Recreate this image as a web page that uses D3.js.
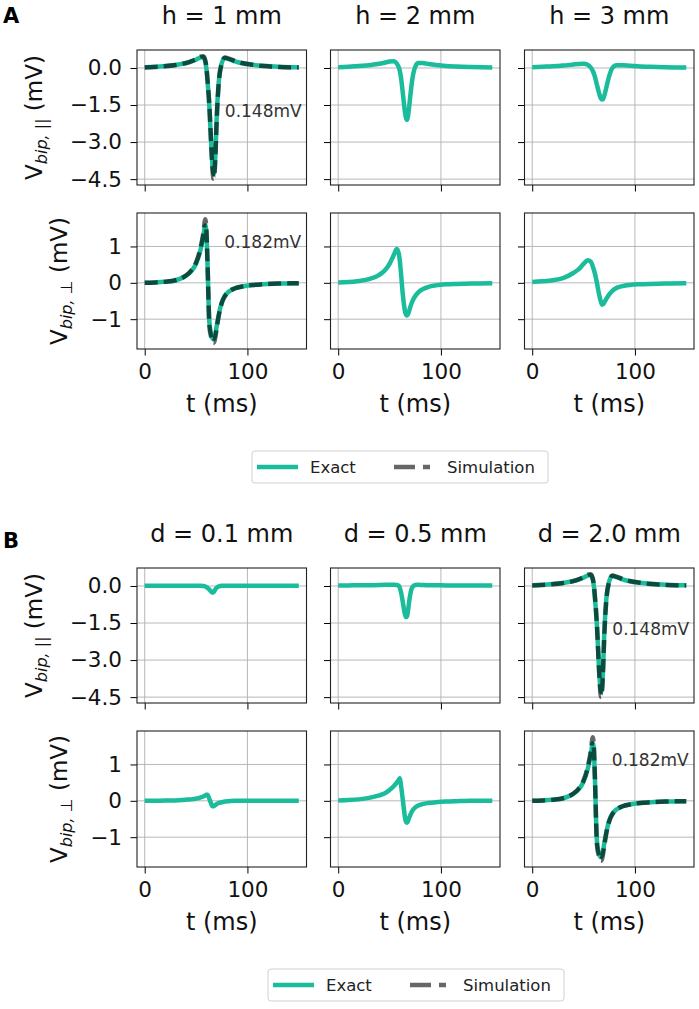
<!DOCTYPE html>
<html>
<head>
<meta charset="utf-8">
<script src="https://cdn.jsdelivr.net/npm/d3@7"></script>
<style>
  body { margin: 0; background: #fff; }
  svg { display: block; font-family: "DejaVu Sans", sans-serif; }
</style>
</head>
<body>
<svg id="chart" width="699" height="1009"></svg>
<script>
// sample times (ms), denser around the spike
const time = [0, 10, 20, 30, 40, 45, 50, 54, 57, 59, 60, 61, 63, 65, 66, 67, 68, 69, 70, 72, 75, 78, 82, 88, 95, 105, 115, 130, 150]

// A : electrode height h (d = 2.0 mm)
const a1ParExact = [0.03, 0.05, 0.08, 0.12, 0.2, 0.26, 0.34, 0.42, 0.44, 0.25, 0.0, -0.45, -1.6, -3.3, -3.95, -4.3, -4.1, -3.3, -2.1, -0.6, 0.2, 0.4, 0.36, 0.27, 0.19, 0.13, 0.09, 0.05, 0.03]
const a1ParSim = [0.02, 0.04, 0.07, 0.12, 0.2, 0.27, 0.36, 0.46, 0.48, 0.3, 0.05, -0.4, -1.55, -3.35, -4.1, -4.49, -4.25, -3.4, -2.2, -0.65, 0.18, 0.42, 0.38, 0.28, 0.2, 0.13, 0.08, 0.04, 0.02]
const a2ParExact = [0.03, 0.05, 0.08, 0.11, 0.17, 0.21, 0.26, 0.27, 0.18, 0.02, -0.12, -0.35, -1.05, -1.8, -2.02, -2.1, -1.95, -1.6, -1.2, -0.5, 0.05, 0.2, 0.2, 0.16, 0.12, 0.08, 0.06, 0.04, 0.02]
const a3ParExact = [0.03, 0.05, 0.07, 0.1, 0.14, 0.16, 0.17, 0.13, 0.02, -0.12, -0.22, -0.35, -0.68, -1.0, -1.14, -1.24, -1.28, -1.25, -1.15, -0.82, -0.32, 0.0, 0.11, 0.11, 0.09, 0.06, 0.05, 0.03, 0.02]
const a1PerpExact = [0.0, 0.01, 0.03, 0.07, 0.19, 0.31, 0.53, 0.87, 1.27, 1.58, 1.4, 0.65, -1.1, -1.45, -1.53, -1.55, -1.5, -1.38, -1.2, -0.88, -0.54, -0.36, -0.24, -0.15, -0.1, -0.06, -0.04, -0.02, -0.01]
const a1PerpSim = [0.0, 0.01, 0.03, 0.07, 0.2, 0.33, 0.56, 0.92, 1.35, 1.75, 1.5, 0.7, -1.2, -1.52, -1.6, -1.65, -1.6, -1.45, -1.27, -0.92, -0.56, -0.37, -0.24, -0.15, -0.1, -0.06, -0.04, -0.02, -0.01]
const a2PerpExact = [0.01, 0.02, 0.05, 0.1, 0.22, 0.33, 0.52, 0.76, 0.93, 0.8, 0.6, 0.3, -0.35, -0.78, -0.87, -0.9, -0.86, -0.78, -0.68, -0.52, -0.36, -0.26, -0.18, -0.11, -0.07, -0.04, -0.03, -0.02, -0.01]
const a3PerpExact = [0.02, 0.04, 0.07, 0.13, 0.27, 0.37, 0.52, 0.62, 0.58, 0.45, 0.36, 0.26, 0.0, -0.3, -0.43, -0.53, -0.6, -0.59, -0.55, -0.45, -0.32, -0.22, -0.14, -0.09, -0.06, -0.04, -0.03, -0.02, -0.01]

// B : electrode spacing d (h = 1 mm)
const b1ParExact = [0.01, 0.01, 0.01, 0.01, 0.01, 0.01, 0.01, 0.01, 0.0, -0.02, -0.04, -0.07, -0.15, -0.24, -0.27, -0.25, -0.19, -0.12, -0.07, -0.02, 0.01, 0.01, 0.01, 0.01, 0.01, 0.01, 0.01, 0.01, 0.01]
const b2ParExact = [0.02, 0.02, 0.03, 0.03, 0.04, 0.05, 0.05, 0.05, 0.04, 0.0, -0.08, -0.22, -0.68, -1.15, -1.26, -1.22, -1.0, -0.65, -0.38, -0.06, 0.04, 0.05, 0.04, 0.03, 0.03, 0.02, 0.02, 0.02, 0.02]
const b1PerpExact = [0.0, 0.0, 0.01, 0.01, 0.03, 0.04, 0.06, 0.09, 0.12, 0.15, 0.17, 0.17, 0.05, -0.1, -0.15, -0.15, -0.13, -0.11, -0.09, -0.06, -0.04, -0.02, -0.01, 0.0, 0.0, 0.0, 0.0, 0.0, 0.0]
const b2PerpExact = [0.01, 0.02, 0.04, 0.08, 0.15, 0.2, 0.3, 0.4, 0.5, 0.58, 0.62, 0.45, 0.0, -0.45, -0.58, -0.6, -0.55, -0.47, -0.4, -0.28, -0.18, -0.13, -0.09, -0.06, -0.04, -0.02, -0.01, 0.0, 0.0]
// d = 2.0 mm is the same configuration as h = 1 mm
const b3ParExact = a1ParExact, b3ParSim = a1ParSim
const b3PerpExact = a1PerpExact, b3PerpSim = a1PerpSim

const titlesA = ["h = 1 mm", "h = 2 mm", "h = 3 mm"]
const titlesB = ["d = 0.1 mm", "d = 0.5 mm", "d = 2.0 mm"]
const parTicks = [0, -1.5, -3.0, -4.5]
const perpTicks = [1, 0, -1]
const timeTicks = [0, 100]
const legendLabels = ["Exact", "Simulation"]
const noteLabels = ["0.148mV", "0.182mV"]

// layout
const colX = [137, 330.5, 524.5]
const panelW = 169.5
const rowY = [[50, 185], [213, 349]]
const yLabelX = [42, 67]
const notePos = [[78, -1.75], [77.5, 1.13]]
const exactColor = "#1abc9c"

const svg = d3.select("#chart")

function paddedExtent(values) {
    let ext = d3.extent(values)
    let pad = (ext[1] - ext[0]) * 0.05
    return [ext[0] - pad, ext[1] + pad]
}

function drawYLabel(g, r, sub) {
    let t = g.append("text")
        .attr("transform", `translate(${yLabelX[r]},${(rowY[r][0] + rowY[r][1]) / 2}) rotate(-90)`)
        .attr("text-anchor", "middle")
        .attr("font-size", 23)
        .attr("fill", "#111")
    t.append("tspan").text("V")
    t.append("tspan").attr("dy", 5).attr("font-size", 16).attr("font-style", "italic").text(sub)
    t.append("tspan").attr("dy", -5).text(" (mV)")
}

function drawLegend(g, x0, y0) {
    let lg = g.append("g").attr("transform", `translate(${x0},${y0})`)
    lg.append("rect").attr("width", 296).attr("height", 32).attr("rx", 3)
        .attr("fill", "#fff").attr("stroke", "#d0d0d0")
    lg.append("line").attr("x1", 5).attr("x2", 46).attr("y1", 16).attr("y2", 16)
        .attr("stroke", exactColor).attr("stroke-width", 4.5)
    lg.append("line").attr("x1", 142).attr("x2", 178).attr("y1", 16).attr("y2", 16)
        .attr("stroke", "#000").attr("stroke-opacity", 0.6).attr("stroke-width", 4.5)
        .attr("stroke-dasharray", "21,8")
    lg.selectAll("text.leg")
        .data(legendLabels)
        .join("text")
        .attr("class", "leg")
        .attr("x", (d, i) => i === 0 ? 58 : 195)
        .attr("y", 16)
        .attr("dominant-baseline", "central")
        .attr("font-size", 16.5)
        .attr("fill", "#222")
        .text(d => d)
}

function drawFigure(fig) {
    let g = svg.append("g").attr("transform", `translate(0,${fig.dy})`)
    g.append("text").attr("x", 3).attr("y", fig.letterY)
        .attr("font-size", 21).attr("font-weight", "bold").text(fig.letter)

    fig.titles.forEach((t, c) => {
        g.append("text")
            .attr("x", colX[c] + panelW / 2).attr("y", 24)
            .attr("text-anchor", "middle").attr("font-size", 24).attr("fill", "#111")
            .text(t)
    })

    fig.rows.forEach((row, r) => {
        let ticks = r === 0 ? parTicks : perpTicks
        let fmt = r === 0 ? d3.format(".1f") : d3.format("d")
        let all = row.flatMap(p => p.sim ? p.exact.concat(p.sim) : p.exact)
        let y = d3.scaleLinear().domain(paddedExtent(all)).range([rowY[r][1], rowY[r][0]])

        row.forEach((p, c) => {
            let x = d3.scaleLinear().domain(paddedExtent(time)).range([colX[c], colX[c] + panelW])
            let pg = g.append("g")

            // grid
            pg.selectAll("line.gy").data(ticks).join("line").attr("class", "gy")
                .attr("x1", x.range()[0]).attr("x2", x.range()[1])
                .attr("y1", d => y(d)).attr("y2", d => y(d))
                .attr("stroke", "#b0b0b0").attr("stroke-width", 0.9)
            pg.selectAll("line.gx").data(timeTicks).join("line").attr("class", "gx")
                .attr("x1", d => x(d)).attr("x2", d => x(d))
                .attr("y1", rowY[r][0]).attr("y2", rowY[r][1])
                .attr("stroke", "#b0b0b0").attr("stroke-width", 0.9)

            let line = d3.line()
                .x((d, i) => x(time[i]))
                .y(d => y(d))
                .curve(d3.curveMonotoneX)
            pg.append("path").datum(p.exact)
                .attr("d", line).attr("fill", "none")
                .attr("stroke", exactColor).attr("stroke-width", 4.5)
                .attr("stroke-linejoin", "round")
            if (p.sim) {
                pg.append("path").datum(p.sim)
                    .attr("d", line).attr("fill", "none")
                    .attr("stroke", "#000").attr("stroke-opacity", 0.6)
                    .attr("stroke-width", 4.5).attr("stroke-dasharray", "13,6")
                    .attr("stroke-linejoin", "round")
                pg.append("text")
                    .attr("x", x(notePos[r][0])).attr("y", y(notePos[r][1]))
                    .attr("dominant-baseline", "central")
                    .attr("font-size", 17).attr("fill", "#333")
                    .text(noteLabels[r])
            }

            // axes
            let yAxis = d3.axisLeft(y).tickValues(ticks).tickSize(6.5).tickPadding(8.5).tickSizeOuter(0)
                .tickFormat(c === 0 ? fmt : "")
            let ya = pg.append("g").attr("transform", `translate(${colX[c]},0)`).call(yAxis)
                .attr("font-size", 21.5).attr("font-family", "DejaVu Sans, sans-serif")
            ya.select(".domain").remove()
            ya.selectAll("text").attr("fill", "#111")

            let xAxis = d3.axisBottom(x).tickValues(timeTicks).tickSize(6.5).tickPadding(8.5).tickSizeOuter(0)
                .tickFormat(r === 1 ? d3.format("d") : "")
            let xa = pg.append("g").attr("transform", `translate(0,${rowY[r][1]})`).call(xAxis)
                .attr("font-size", 21.5).attr("font-family", "DejaVu Sans, sans-serif")
            xa.select(".domain").remove()
            xa.selectAll("text").attr("fill", "#111")

            pg.append("rect")
                .attr("x", colX[c]).attr("y", rowY[r][0])
                .attr("width", panelW).attr("height", rowY[r][1] - rowY[r][0])
                .attr("fill", "none").attr("stroke", "#222").attr("stroke-width", 1.1)

            if (r === 1) {
                pg.append("text")
                    .attr("x", colX[c] + panelW / 2).attr("y", 412)
                    .attr("text-anchor", "middle").attr("font-size", 24).attr("fill", "#111")
                    .text("t (ms)")
            }
        })
    })

    drawYLabel(g, 0, "bip, ||")
    drawYLabel(g, 1, "bip, \u22a5")
    drawLegend(g, fig.legendX, 451)
}

drawFigure({
    letter: "A", letterY: 23, dy: 0, titles: titlesA, legendX: 252,
    rows: [
        [{exact: a1ParExact, sim: a1ParSim}, {exact: a2ParExact}, {exact: a3ParExact}],
        [{exact: a1PerpExact, sim: a1PerpSim}, {exact: a2PerpExact}, {exact: a3PerpExact}]
    ]
})
drawFigure({
    letter: "B", letterY: 30, dy: 518, titles: titlesB, legendX: 268,
    rows: [
        [{exact: b1ParExact}, {exact: b2ParExact}, {exact: b3ParExact, sim: b3ParSim}],
        [{exact: b1PerpExact}, {exact: b2PerpExact}, {exact: b3PerpExact, sim: b3PerpSim}]
    ]
})
</script>
</body>
</html>
